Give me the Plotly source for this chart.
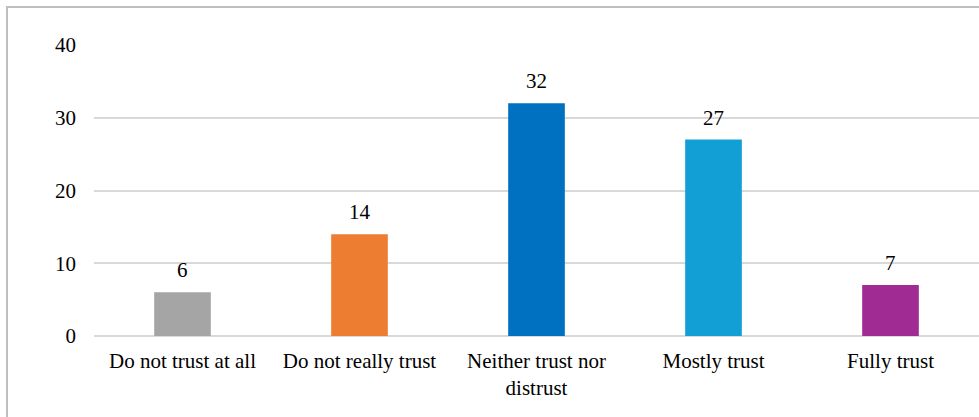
import plotly.graph_objects as go

categories = ["Do not trust at all", "Do not really trust", "Neither trust nor<br>distrust", "Mostly trust", "Fully trust"]
values = [6, 14, 32, 27, 7]
colors = ["#a5a5a5", "#ed7d31", "#0070c0", "#119fd6", "#a02b93"]
y_ticks = [0, 10, 20, 30, 40]

FONT = "Times New Roman"
FS = 21

fig = go.Figure()
fig.add_trace(go.Bar(
    x=categories, y=values, marker=dict(color=colors, line=dict(width=0)),
    width=0.32, hoverinfo="skip",
))

for c, v in zip(categories, values):
    fig.add_annotation(x=c, y=v, text=str(v), showarrow=False, yanchor="bottom",
                       yshift=8, font=dict(family=FONT, size=FS, color="#000000"))

fig.add_shape(type="rect", xref="paper", yref="paper", x0=-0.0983, x1=1.02, y0=-0.45, y1=1.1306,
              line=dict(color="#bfbfbf", width=2), fillcolor="rgba(0,0,0,0)", layer="below")

fig.update_layout(
    width=979, height=417,
    margin=dict(l=94, r=0, t=45, b=81),
    paper_bgcolor="white", plot_bgcolor="white",
    showlegend=False,
    font=dict(family=FONT, size=FS, color="#000000"),
    xaxis=dict(showgrid=False, showline=False, zeroline=False, ticks="",
               tickfont=dict(family=FONT, size=FS), ticklabelstandoff=10),
    yaxis=dict(range=[0, 40], tickvals=y_ticks, showgrid=True, gridcolor="#d9d9d9", gridwidth=2,
               zeroline=True, zerolinecolor="#d9d9d9", zerolinewidth=2, showline=False, ticks="",
               tickfont=dict(family=FONT, size=FS), ticklabelstandoff=17),
)

fig.write_html("out.html")
